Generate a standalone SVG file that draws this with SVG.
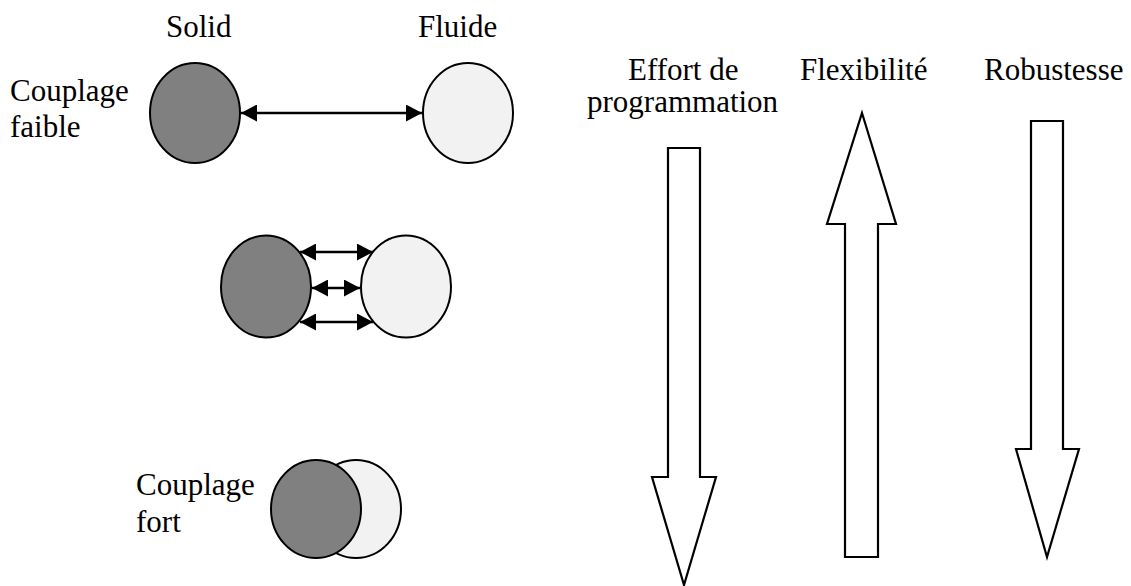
<svg xmlns="http://www.w3.org/2000/svg" width="1131" height="586" viewBox="0 0 1131 586">
<defs>
<style>
text{font-family:"Liberation Serif","Times New Roman",serif;font-size:31px;fill:#000}
.solid{fill:#808080;stroke:#000;stroke-width:2}
.fluid{fill:#f2f2f2;stroke:#000;stroke-width:2}
.conn{stroke:#000;stroke-width:2.5;fill:none;marker-start:url(#ah);marker-end:url(#ah)}
.big{fill:#fff;stroke:#000;stroke-width:2.2;stroke-linejoin:miter}
</style>
<marker id="ah" viewBox="0 0 16 17" refX="16" refY="8.5" markerWidth="16" markerHeight="17" markerUnits="userSpaceOnUse" orient="auto-start-reverse">
<path d="M0,0 L16,8.5 L0,17 Z" fill="#000"/>
</marker>
</defs>
<rect width="1131" height="586" fill="#fff"/>
<g id="labels">
<text x="166" y="37">Solid</text>
<text x="418" y="37">Fluide</text>
<text x="10" y="101">Couplage</text>
<text x="10" y="137">faible</text>
<text x="136" y="495">Couplage</text>
<text x="136" y="532">fort</text>
</g>
<g id="weak-solid"><ellipse class="solid" cx="195" cy="113" rx="45" ry="50"/></g>
<g id="weak-fluid"><ellipse class="fluid" cx="468" cy="113" rx="45" ry="50"/></g>
<g id="mid-solid"><ellipse class="solid" cx="266" cy="286.5" rx="45" ry="51"/></g>
<g id="mid-fluid"><ellipse class="fluid" cx="406" cy="286.5" rx="45" ry="51"/></g>
<g id="strong-fluid"><ellipse class="fluid" cx="356" cy="509" rx="45" ry="49"/></g>
<g id="strong-solid"><ellipse class="solid" cx="316" cy="509" rx="45" ry="49"/></g>
<g id="connectors">
<line class="conn" x1="241" y1="113" x2="422" y2="113"/>
<line class="conn" x1="300" y1="252" x2="373" y2="252"/>
<line class="conn" x1="312" y1="288" x2="360" y2="288"/>
<line class="conn" x1="300" y1="322" x2="373" y2="322"/>
</g>
<g id="effort">
<text x="628" y="80">Effort de</text>
<text x="587" y="112">programmation</text>
<polygon class="big" points="668,148 700,148 700,477 716,477 684,585 652,477 668,477"/>
</g>
<g id="flexibilite">
<text x="800" y="80">Flexibilité</text>
<polygon class="big" points="862,113 896,224 878,224 878,557 845,557 845,224 827,224"/>
</g>
<g id="robustesse">
<text x="984" y="80">Robustesse</text>
<polygon class="big" points="1031,121 1063,121 1063,449 1079,449 1047,557 1016,449 1031,449"/>
</g>
</svg>
